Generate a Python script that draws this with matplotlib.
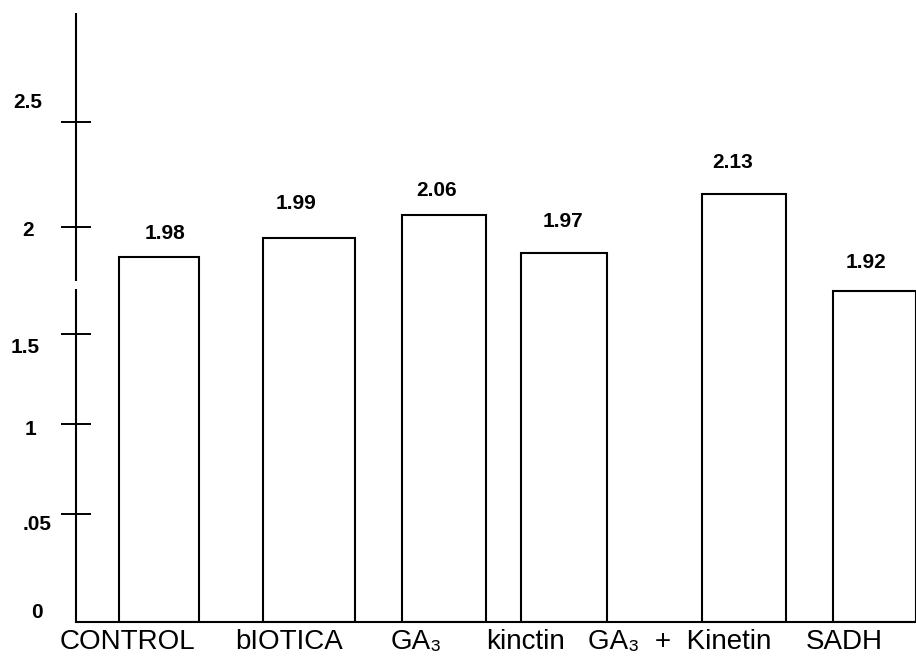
import numpy as np
import matplotlib
matplotlib.use('Agg')
import matplotlib.pyplot as plt

# data
categories = ['CONTROL', 'bIOTICA', 'GA₃', 'kinctin', 'GA₃  +  Kinetin', 'SADH']
heights = [1.86, 1.95, 2.06, 1.88, 2.16, 1.70]          # bar tops as read on the axis
value_labels = ['1.98', '1.99', '2.06', '1.97', '2.13', '1.92']
tick_vals = [0, 0.5, 1, 1.5, 2, 2.5]
tick_labels = ['0', '.05', '1', '1.5', '2', '2.5']

# layout (the printed axis is not evenly spaced)
tick_pos = [0, 108, 198, 288, 394, 499]
bar_x = [0.83, 2.33, 3.68, 4.88, 6.68, 7.98]
bar_w = [0.80, 0.92, 0.84, 0.86, 0.84, 0.83]
cat_x = [0.51, 2.13, 3.40, 4.49, 6.04, 7.68]
tick_dx = [-39, -39, -45, -51, -48, -48]
tick_dy = [10, -11, -6, -14, -3, 20]
val_dx = [6, -13, -7, -1, -11, -8]
val_dy = [24, 35, 24, 31, 31, 29]

sv = [-1] + tick_vals + [4]
sp = [-216] + tick_pos + [814]

def fwd(v):
    return np.interp(v, sv, sp)

def inv(p):
    return np.interp(p, sp, sv)

plt.rcParams['font.family'] = ['Liberation Sans', 'DejaVu Sans']

fig = plt.figure(figsize=(9.16, 6.67), dpi=100)
ax = fig.add_axes([76 / 916, 45 / 667, 840 / 916, 609 / 667])
ax.set_yscale('function', functions=(fwd, inv))
ax.set_ylim(0, 3.02)
ax.set_xlim(0, 8.4)

ax.bar(bar_x, heights, width=bar_w, color='white', edgecolor='black', linewidth=1.5)

for x, h, lab, dx, dy in zip(bar_x, heights, value_labels, val_dx, val_dy):
    ax.annotate(lab, xy=(x, h), xytext=(dx, dy), textcoords='offset pixels',
                ha='center', va='center', fontsize=15, fontweight='bold')

# y axis with a small break
for s in ['top', 'right', 'left']:
    ax.spines[s].set_visible(False)
ax.spines['bottom'].set_linewidth(1.5)
yt = ax.get_yaxis_transform()
ax.vlines(0, 0, 1.71, transform=yt, color='black', linewidth=1.5, clip_on=False)
ax.vlines(0, 1.75, 3.02, transform=yt, color='black', linewidth=1.5, clip_on=False)

# tick marks only above the baseline
ax.set_yticks(tick_vals[1:])
ax.set_yticklabels([])
ax.tick_params(axis='y', direction='inout', length=21, width=1.4)
for v, lab, dx, dy in zip(tick_vals, tick_labels, tick_dx, tick_dy):
    ax.annotate(lab, xy=(0, v), xycoords=yt, xytext=(dx, dy), textcoords='offset pixels',
                ha='center', va='center', fontsize=15, fontweight='bold')

ax.set_xticks(cat_x)
ax.set_xticklabels(categories, fontsize=20)
ax.tick_params(axis='x', length=0, pad=5)

fig.savefig('out.png', dpi=100)
